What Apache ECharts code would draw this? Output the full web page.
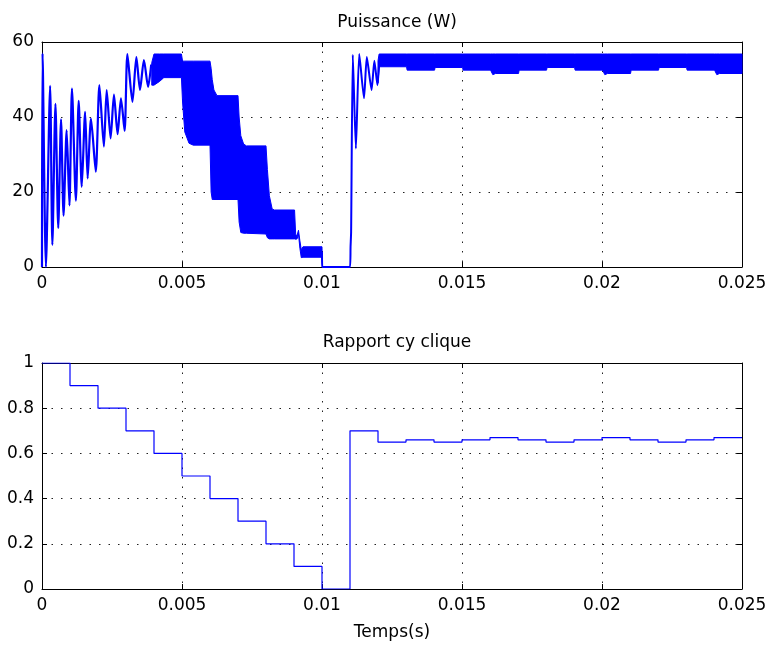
<!DOCTYPE html>
<html><head><meta charset="utf-8">
<script src="https://cdn.jsdelivr.net/npm/echarts@6/dist/echarts.min.js"></script>
<style>html,body{margin:0;padding:0;background:#fff}#c{width:770px;height:646px}</style>
</head><body><div id="c"></div>
<script>
// ---- data ----
const timeTicks = [0, 0.005, 0.01, 0.015, 0.02, 0.025];
const powerTicks = [0, 20, 40, 60];
const dutyTicks = [0, 0.2, 0.4, 0.6, 0.8, 1];

// start-up transient of the power (0 - 0.004 s)
const startT = [0, 0.00002, 0.00014, 0.00029, 0.00037, 0.00048, 0.00058, 0.00068, 0.00077, 0.00088, 0.00098, 0.00107, 0.00121, 0.00131, 0.00142, 0.00154, 0.00163, 0.00175, 0.00192, 0.00205, 0.00221, 0.00231, 0.00245, 0.00257, 0.0027, 0.00282, 0.00295, 0.00305, 0.00323, 0.00337, 0.0035, 0.00364, 0.00379, 0.0039];
const startP = [0, 57, 0, 48.3, 5.9, 43.5, 10.4, 39.4, 13.7, 36.5, 16.4, 47.6, 17.7, 44.3, 21.4, 41.4, 23.6, 39.6, 25.4, 48.5, 32.1, 47.2, 34.3, 46, 35.4, 45, 36.3, 56.8, 44, 56, 47.2, 55.2, 48, 54];

// zero interval and restart transient (0.010 - 0.012 s)
const restartT = [0.01, 0.01001, 0.011, 0.01102, 0.01104, 0.0111, 0.01121, 0.01133, 0.0115, 0.0116, 0.01177, 0.01187, 0.01198, 0.01204];
const restartP = [4, 0, 0, 5.4, 9.4, 56.6, 31.6, 56.8, 45, 56, 47.2, 55, 48.5, 54];

// ripple band (upper / lower envelope) 0.004 - 0.010 s
const band1T  = [0.00392, 0.004, 0.0042, 0.00435, 0.00498, 0.00502, 0.0051, 0.00525, 0.0054, 0.006, 0.00604, 0.00608, 0.00614, 0.00625, 0.007, 0.00704, 0.0071, 0.0072, 0.0073, 0.008, 0.00805, 0.00812, 0.00822, 0.0083, 0.00902, 0.00906, 0.00911, 0.00916, 0.00921, 0.00926, 0.00932, 0.01, 0.01001];
const band1Hi = [54.5, 56.8, 56.8, 56.8, 56.8, 54.9, 54.9, 54.9, 54.9, 54.9, 53, 50, 47.2, 45.7, 45.7, 40, 35, 32.8, 32.3, 32.3, 26, 19, 15.5, 15.2, 15.2, 8.6, 8.4, 9.8, 7, 4.6, 5.4, 5.4, 0.3];
const band1Lo = [48.5, 48.5, 49.5, 50.5, 50.5, 44, 36, 33, 32.5, 32.5, 20, 18, 18, 18, 18, 12, 9.2, 9, 9, 8.8, 7.8, 7.5, 7.5, 7.5, 7.5, 7.4, 7.5, 8.8, 5, 2.5, 2.6, 2.6, 0];

// ripple band 0.012 - 0.025 s
const band2T  = [0.012, 0.01204, 0.01302, 0.01304, 0.01402, 0.01404, 0.01502, 0.01504, 0.01602, 0.0161, 0.0162, 0.01702, 0.01704, 0.01802, 0.01804, 0.01902, 0.01904, 0.02002, 0.0201, 0.0202, 0.02102, 0.02104, 0.02202, 0.02204, 0.02302, 0.02304, 0.02402, 0.0241, 0.0242, 0.025];
const band2Hi = [55, 56.8, 56.8, 56.8, 56.8, 56.8, 56.8, 56.8, 56.8, 56.8, 56.8, 56.8, 56.8, 56.8, 56.8, 56.8, 56.8, 56.8, 56.8, 56.8, 56.8, 56.8, 56.8, 56.8, 56.8, 56.8, 56.8, 56.8, 56.8, 56.8];
const band2Lo = [49, 53.4, 53.4, 52.5, 52.5, 53.2, 53.2, 52.5, 52.5, 51.3, 51.6, 51.6, 52.5, 52.5, 53.2, 53.2, 52.5, 52.5, 51.3, 51.6, 51.6, 52.5, 52.5, 53.2, 53.2, 52.5, 52.5, 51.3, 51.6, 51.6];

// duty cycle (value held from each time to the next)
const dutyT = [0, 0.001, 0.002, 0.003, 0.004, 0.005, 0.006, 0.007, 0.008, 0.009, 0.01, 0.011, 0.012, 0.013, 0.014, 0.015, 0.016, 0.017, 0.018, 0.019, 0.02, 0.021, 0.022, 0.023, 0.024, 0.025];
const dutyV = [1, 0.9, 0.8, 0.7, 0.6, 0.5, 0.4, 0.3, 0.2, 0.1, 0, 0.7, 0.65, 0.66, 0.65, 0.66, 0.67, 0.66, 0.65, 0.66, 0.67, 0.66, 0.65, 0.66, 0.67, 0.67];

// ---- chart ----
const FONT = '"DejaVu Sans", Verdana, sans-serif';
const BLUE = '#0000ff';
const zip = (a, b) => a.map((v, i) => [v, b[i]]);
const chart = echarts.init(document.getElementById('c'), null, {renderer: 'canvas'});

const tick = {show: true, inside: true, length: 5, lineStyle: {color: '#000', width: 1}};
const line = {show: true, onZero: false, lineStyle: {color: '#000', width: 1}};
const split = {show: true, lineStyle: {color: '#222', width: 1, type: [1.5, 8]}};
const lab = {color: '#000', fontSize: 17, fontFamily: FONT};

function xAx(grid, pos, showLab, name) {
  return {type: 'value', gridIndex: grid, position: pos, min: 0, max: 0.025, interval: 0.005,
    axisLine: line, axisTick: tick, splitLine: pos === 'bottom' ? split : {show: false},
    axisLabel: showLab ? Object.assign({margin: 8, formatter: v => String(+v.toFixed(3))}, lab) : {show: false},
    name: name || '', nameLocation: 'middle', nameGap: 35,
    nameTextStyle: {color: '#000', fontSize: 17, fontFamily: FONT}};
}
function yAx(grid, pos, max, intv, showLab) {
  return {type: 'value', gridIndex: grid, position: pos, min: 0, max: max, interval: intv,
    axisLine: line, axisTick: tick, splitLine: pos === 'left' ? split : {show: false},
    axisLabel: showLab ? Object.assign({margin: 8, formatter: v => String(+v.toFixed(1))}, lab) : {show: false}};
}
function band(T, Hi, Lo) {
  return {type: 'custom', xAxisIndex: 0, yAxisIndex: 0, silent: true,
    data: T.map((t, i) => [t, Lo[i], Hi[i]]), encode: {x: 0, y: [1, 2]},
    renderItem: (params, api) => {
      if (params.dataIndex !== 0) return null;
      const pts = [];
      for (let i = 0; i < T.length; i++) pts.push(api.coord([T[i], Hi[i]]));
      for (let i = T.length - 1; i >= 0; i--) pts.push(api.coord([T[i], Lo[i]]));
      return {type: 'polygon', shape: {points: pts}, style: {fill: BLUE, stroke: BLUE, lineWidth: 1}};
    }};
}

chart.setOption({
  animation: false,
  backgroundColor: '#fff',
  title: [
    {text: 'Puissance (W)', left: 392, top: 9, textAlign: 'center', textStyle: {color: '#000', fontSize: 17, fontWeight: 'normal', fontFamily: FONT}},
    {text: 'Rapport cy clique', left: 392, top: 329, textAlign: 'center', textStyle: {color: '#000', fontSize: 17, fontWeight: 'normal', fontFamily: FONT}}
  ],
  grid: [
    {left: 42, right: 28, top: 42, height: 225},
    {left: 42, right: 28, top: 363, height: 226}
  ],
  xAxis: [xAx(0, 'bottom', true), xAx(0, 'top', false), xAx(1, 'bottom', true, 'Temps(s)'), xAx(1, 'top', false)],
  yAxis: [yAx(0, 'left', 60, 20, true), yAx(0, 'right', 60, 20, false), yAx(1, 'left', 1, 0.2, true), yAx(1, 'right', 1, 0.2, false)],
  series: [
    {type: 'line', xAxisIndex: 0, yAxisIndex: 0, data: zip(startT, startP), showSymbol: false, smooth: 0.25, lineStyle: {color: BLUE, width: 2.2}},
    band(band1T, band1Hi, band1Lo),
    {type: 'line', xAxisIndex: 0, yAxisIndex: 0, data: zip(restartT, restartP), showSymbol: false, smooth: 0.2, lineStyle: {color: BLUE, width: 2}},
    band(band2T, band2Hi, band2Lo),
    {type: 'line', xAxisIndex: 2, yAxisIndex: 2, data: zip(dutyT, dutyV), step: 'end', showSymbol: false, lineStyle: {color: BLUE, width: 1.2}}
  ]
});
</script></body></html>
